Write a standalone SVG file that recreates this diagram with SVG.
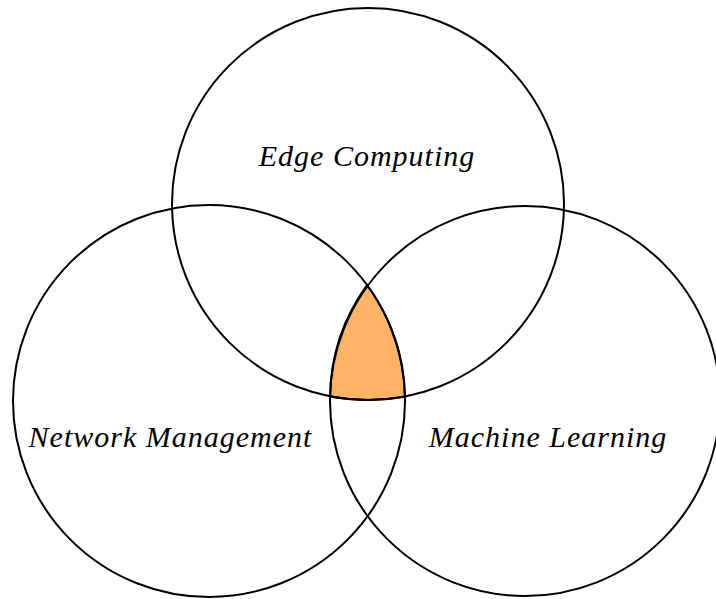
<svg xmlns="http://www.w3.org/2000/svg" width="716" height="599" viewBox="0 0 716 599">
<style>
.c{fill:none;stroke:#000;stroke-width:2}
.t{font-family:"Liberation Serif",serif;font-style:italic;font-size:30px;fill:#000;letter-spacing:1px}
</style>
<rect width="716" height="599" fill="#fff"/>
<g id="overlap">
<path d="M367,285 A195,195 0 0 0 330.06,396.3 A196,196 0 0 0 405,396.5 A196,196 0 0 0 367,285 Z" fill="#FFB366" stroke="#000" stroke-width="2"/>
</g>
<g id="edge-computing">
<circle class="c" cx="368" cy="204" r="196"/>
<text class="t" x="367" y="166" text-anchor="middle">Edge Computing</text>
</g>
<g id="network-management">
<circle class="c" cx="209" cy="401" r="196"/>
<text class="t" x="170.5" y="447" text-anchor="middle">Network Management</text>
</g>
<g id="machine-learning">
<circle class="c" cx="525" cy="401" r="195"/>
<text class="t" x="548" y="447" text-anchor="middle">Machine Learning</text>
</g>
</svg>
